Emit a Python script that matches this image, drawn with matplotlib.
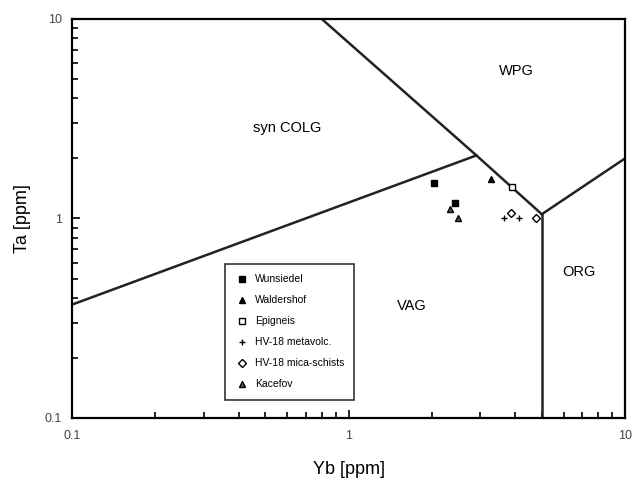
import matplotlib.pyplot as plt
import numpy as np

plt.rcParams['font.family'] = ['Liberation Sans', 'DejaVu Sans']

# discrimination boundaries (Yb, Ta)
vag_colg_x = [0.1, 2.9]
vag_colg_y = [0.37, 2.07]
wpg_x = [0.8, 2.9, 5.0]
wpg_y = [10.0, 2.07, 1.05]
org_vert_x = [5.0, 5.0]
org_vert_y = [1.05, 0.1]
org_top_x = [5.0, 10.0]
org_top_y = [1.05, 2.0]

# samples
wunsiedel_yb = [2.04, 2.42]
wunsiedel_ta = [1.50, 1.20]
waldershof_yb = [3.28]
waldershof_ta = [1.58]
epigneis_yb = [3.91]
epigneis_ta = [1.43]
metavolc_yb = [3.66, 4.14]
metavolc_ta = [1.0, 1.0]
mica_yb = [3.87, 4.78]
mica_ta = [1.07, 1.0]
kacefov_yb = [2.33, 2.48]
kacefov_ta = [1.11, 1.0]

fig = plt.figure(figsize=(6.32, 4.86), dpi=100)
ax = fig.add_axes([0.114, 0.140, 0.875, 0.821])

for xs, ys in [(vag_colg_x, vag_colg_y), (wpg_x, wpg_y), (org_vert_x, org_vert_y), (org_top_x, org_top_y)]:
    ax.plot(xs, ys, color='#222222', lw=1.8, zorder=2)

ax.plot(wunsiedel_yb, wunsiedel_ta, 's', color='k', ms=5, ls='none', label='Wunsiedel', zorder=3)
ax.plot(waldershof_yb, waldershof_ta, '^', color='k', ms=5, ls='none', label='Waldershof', zorder=3)
ax.plot(epigneis_yb, epigneis_ta, 's', mfc='white', mec='k', mew=1, ms=4.5, ls='none', label='Epigneis', zorder=3)
ax.plot(metavolc_yb, metavolc_ta, '+', color='k', ms=5, mew=1, ls='none', label='HV-18 metavolc.', zorder=3)
ax.plot(mica_yb, mica_ta, 'D', mfc='white', mec='k', mew=1, ms=4, ls='none', label='HV-18 mica-schists', zorder=3)
ax.plot(kacefov_yb, kacefov_ta, '^', mfc='#555555', mec='k', ms=5, ls='none', label='Kacefov', zorder=3)

ax.text(0.6, 2.85, 'syn COLG', fontsize=10.5, ha='center', va='center')
ax.text(4.05, 5.5, 'WPG', fontsize=10.5, ha='center', va='center')
ax.text(1.7, 0.363, 'VAG', fontsize=10.5, ha='center', va='center')
ax.text(6.8, 0.537, 'ORG', fontsize=10.5, ha='center', va='center')

ax.set_xscale('log')
ax.set_yscale('log')
ax.set_xlim(0.1, 10)
ax.set_ylim(0.1, 10)
ax.set_xticks([0.1, 1, 10])
ax.set_xticklabels(['0.1', '1', '10'])
ax.set_yticks([0.1, 1, 10])
ax.set_yticklabels(['0.1', '1', '10'])
ax.tick_params(which='both', direction='in', labelsize=9, labelcolor='#444444', width=1.2)
ax.tick_params(which='major', length=6)
ax.tick_params(which='minor', length=4)
ax.tick_params(axis='x', which='major', pad=9)
ax.tick_params(axis='y', which='major', pad=7)
for s in ax.spines.values():
    s.set_linewidth(1.6)

ax.set_xlabel('Yb [ppm]', fontsize=13, labelpad=13)
ax.set_ylabel('Ta [ppm]', fontsize=13, labelpad=10)

leg = ax.legend(loc='lower left', bbox_to_anchor=(0.268, 0.033), fontsize=7.5, frameon=True,
                fancybox=False, edgecolor='k', borderpad=1.0, labelspacing=1.05, handletextpad=0.6,
                handlelength=1.2)
leg.get_frame().set_linewidth(1.2)

fig.savefig('out.png', dpi=100)
